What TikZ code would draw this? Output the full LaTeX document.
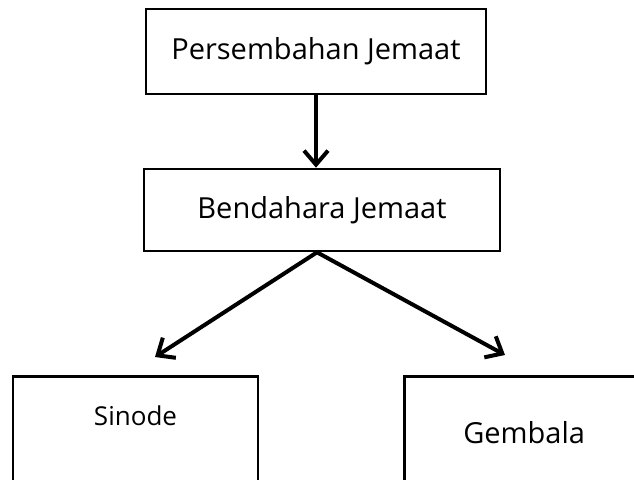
\documentclass[tikz,border=0pt]{standalone}
\usepackage{fontspec}
\setmainfont{Open Sans}
\usetikzlibrary{arrows.meta}

\begin{document}
\begin{tikzpicture}
				[x=1pt, y=-1pt,
				box/.style={rectangle, draw=black, line width=2.6pt, inner sep=0pt},
				flow/.style={line width=4pt, -{Straight Barb[length=14pt, width=24pt, line width=4pt]}}]
				\clip (0,0) rectangle (634,479);
				\node [box, minimum width=340pt, minimum height=85pt, font=\fontsize{29}{34}\selectfont]
					(persembahan)	at (316,51.5)		{Persembahan Jemaat};
				\node [box, minimum width=356pt, minimum height=82pt, font=\fontsize{29}{34}\selectfont]
					(bendahara)	at (322,210)		{Bendahara Jemaat};
				\node [box, anchor=north, minimum width=245pt, text height=49pt, text depth=100pt, font=\fontsize{26}{30}\selectfont]
					(sinode)	at (135.5,375)		{Sinode};
				\node [box, anchor=north west, inner xsep=59pt, text width=200pt, align=left, text height=67pt, text depth=100pt, font=\fontsize{29}{34}\selectfont]
					(gembala)	at (403,375)		{Gembala};
				\coordinate (tip sinode) at (155,357);
				\coordinate (tip gembala) at (505,355);
				\draw [flow] (persembahan.south) -- (persembahan.south |- bendahara.north);
				\draw [flow] ([xshift=-5pt]bendahara.south) -- (tip sinode);
				\draw [flow] ([xshift=-5pt]bendahara.south) -- (tip gembala);
			\end{tikzpicture}
\end{document}
